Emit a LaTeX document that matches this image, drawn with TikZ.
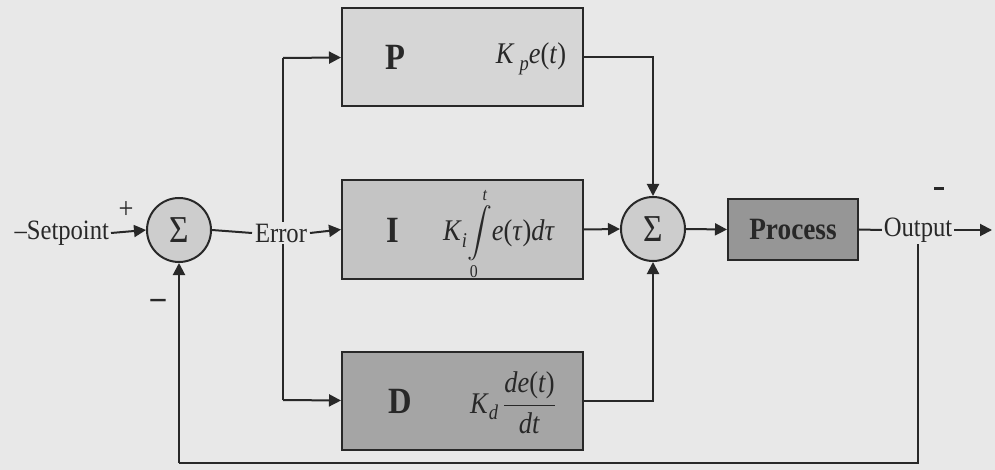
\RequirePackage{fix-cm}
\documentclass[tikz,border=0pt]{standalone}
\usepackage{exscale}
\usepackage{fontspec}
\setmainfont{Liberation Serif}[FakeStretch=0.88]
\usetikzlibrary{arrows.meta}
\definecolor{bgc}{RGB}{232,232,232}
\definecolor{linec}{RGB}{40,40,40}
\definecolor{pfill}{RGB}{214,214,214}
\definecolor{ifill}{RGB}{196,196,196}
\definecolor{dfill}{RGB}{165,165,165}
\definecolor{prfill}{RGB}{150,150,150}
\definecolor{sumfill}{RGB}{205,205,205}
\newcommand{\subit}[1]{\raisebox{-0.5ex}{\fontsize{21}{22}\selectfont\textit{#1}}}
\begin{document}
\begin{tikzpicture}[x=1pt,y=-1pt,
  line width=2pt,
  color=linec,
  arr/.style={-{Triangle[length=12pt,width=12pt]}},
  sumnode/.style={circle,draw=linec,fill=sumfill,minimum size=64pt,inner sep=0pt,font=\fontsize{38}{40}\selectfont},
  blockbox/.style={rectangle,draw=linec,minimum width=241pt,minimum height=98pt,inner sep=0pt},
  lbl/.style={font=\fontsize{28}{32}\selectfont,inner sep=1pt,text=linec},
  bigletter/.style={font=\fontsize{37}{42}\selectfont\bfseries,inner sep=0pt,text=linec},
  expr/.style={font=\fontsize{30}{34}\selectfont,inner sep=0pt,text=linec}
]
\fill[bgc] (0,0) rectangle (995,470);
\useasboundingbox (0,0) rectangle (995,470);

% split line (behind Error text)
\coordinate (splitT) at (283,58);
\coordinate (splitB) at (283,400);
\draw (splitT) -- (splitB);

% nodes
\node[sumnode] (s1) at (179,230) {Σ};
\node[lbl,anchor=east] (sp) at (111,233) {–Setpoint};
\node[lbl,font=\fontsize{30}{32}\selectfont] (plus) at (126,210) {+};
\node[lbl,font=\fontsize{34}{36}\selectfont\bfseries] (minus) at (158,304) {–};
\node[lbl,fill=bgc,inner sep=2pt] (err) at (281,233) {Error};

\node[blockbox,fill=pfill] (P) at (462.5,57.5) {};
\node[blockbox,fill=ifill] (I) at (462.5,229.5) {};
\node[blockbox,fill=dfill] (D) at (462.5,400.5) {};

\node[bigletter] (pl) at (395,57) {P};
\node[expr] (pe) at (531,59) {\textit{K}\,\subit{p}\textit{e}(\textit{t})};
\node[bigletter] (il) at (393,230) {I};
\node[expr] (ie) at (499,234) {\textit{K}\subit{i}$\displaystyle\int\limits_{\mbox{\fontsize{18}{18}\selectfont 0}}^{\mbox{\fontsize{18}{18}\selectfont\textit{t}}}$\textit{e}(\textit{τ})\textit{dτ}};
\node[bigletter] (dl) at (400,401) {D};
\node[expr] (de) at (513,403) {\textit{K}\subit{d}\,$\displaystyle\frac{\mbox{\textit{de}(\textit{t})}}{\mbox{\textit{dt}}}$};

\node[sumnode] (s2) at (653,229) {Σ};
\node[rectangle,draw=linec,fill=prfill,minimum width=130pt,minimum height=61pt,inner sep=0pt,text=linec,font=\fontsize{31}{34}\selectfont\bfseries] (pr) at (793,229.5) {Process};
\node[lbl] (out) at (918,230) {Output};
\coordinate (outEnd) at (992,230);
\coordinate (fbR) at (918,463);
\coordinate (fbL) at (179,463);
\coordinate (tick1) at (934,189);
\coordinate (tick2) at (944,189);

% connectors
\draw[arr] (sp.east) -- (s1.west);
\draw (s1.east) -- (err.west);
\draw[arr] (err.east) -- (I.west);
\draw[arr] (splitT) -- (P.west);
\draw[arr] (splitB) -- (D.west);
\draw[arr] (P.east) -| (s2.north);
\draw[arr] (I.east) -- (s2.west);
\draw[arr] (D.east) -| (s2.south);
\draw[arr] (s2.east) -- (pr.west);
\draw (pr.east) -- (out.west);
\draw[arr] (out.east) -- (outEnd);
\draw (out.south) -- (fbR) -- (fbL);
\draw[arr] (fbL) -- (s1.south);
\draw[line width=3pt] (tick1) -- (tick2);
\end{tikzpicture}
\end{document}
